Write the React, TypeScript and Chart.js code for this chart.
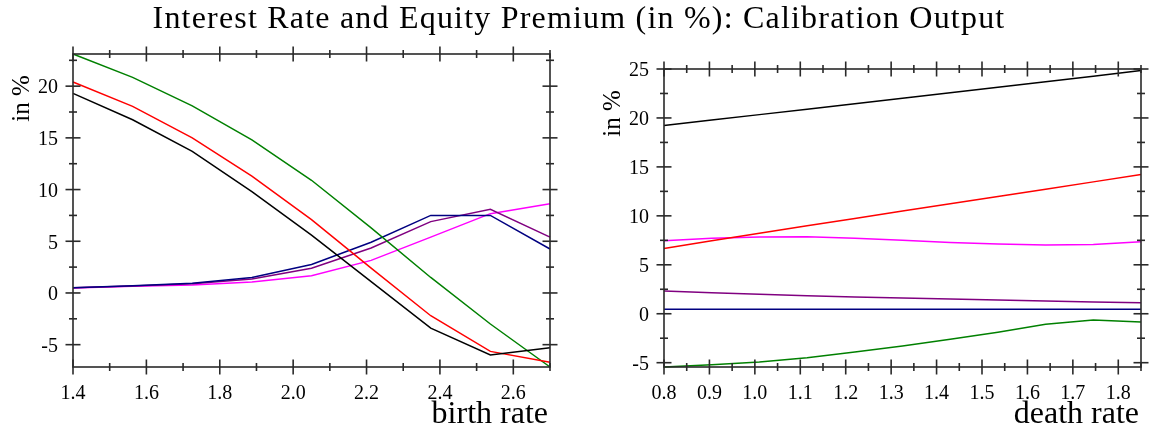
import React, { useEffect, useRef } from "react";
import { Chart, registerables } from "chart.js";

Chart.register(...registerables);

// ---------- data ----------
const birthRate = [1.4, 1.5625, 1.725, 1.8875, 2.05, 2.2125, 2.375, 2.5375, 2.7];
const birthBlack = [19.3, 16.75, 13.7, 9.8, 5.6, 1.1, -3.4, -6.0, -5.3];
const birthRed = [20.4, 18.05, 15.0, 11.3, 7.1, 2.4, -2.2, -5.65, -6.7];
const birthGreen = [23.11, 20.85, 18.1, 14.8, 10.9, 6.3, 1.5, -3.0, -7.16];
const birthNavy = [0.5, 0.7, 0.95, 1.5, 2.75, 4.9, 7.5, 7.5, 4.25];
const birthPurple = [0.5, 0.68, 0.88, 1.35, 2.4, 4.35, 6.9, 8.1, 5.4];
const birthMagenta = [0.48, 0.65, 0.78, 1.05, 1.67, 3.15, 5.4, 7.67, 8.63];

const deathRate = [0.8, 0.905, 1.01, 1.115, 1.22, 1.325, 1.43, 1.535, 1.64, 1.745, 1.85];
const deathBlack = [19.22, 19.78, 20.34, 20.9, 21.46, 22.02, 22.58, 23.14, 23.7, 24.27, 24.85];
const deathRed = [6.67, 7.45, 8.22, 8.98, 9.74, 10.5, 11.24, 11.98, 12.72, 13.47, 14.22];
const deathMagenta = [7.45, 7.7, 7.85, 7.86, 7.7, 7.5, 7.28, 7.12, 7.03, 7.08, 7.35];
const deathPurple = [2.32, 2.15, 1.99, 1.85, 1.72, 1.6, 1.5, 1.4, 1.3, 1.21, 1.12];
const deathNavy = [0.47, 0.47, 0.47, 0.47, 0.47, 0.47, 0.47, 0.47, 0.47, 0.47, 0.47];
const deathGreen = [-5.44, -5.2, -4.93, -4.5, -3.9, -3.3, -2.6, -1.88, -1.08, -0.64, -0.85];

// tick values
const birthXMajor = [1.4, 1.6, 1.8, 2.0, 2.2, 2.4, 2.6];
const birthXMinor = [1.5, 1.7, 1.9, 2.1, 2.3, 2.5, 2.7];
const birthYMajor = [-5, 0, 5, 10, 15, 20];
const birthYMinor = [-2.5, 2.5, 7.5, 12.5, 17.5, 22.5];

const deathXMajor = [0.8, 0.9, 1.0, 1.1, 1.2, 1.3, 1.4, 1.5, 1.6, 1.7, 1.8];
const deathXMinor = [0.85, 0.95, 1.05, 1.15, 1.25, 1.35, 1.45, 1.55, 1.65, 1.75, 1.85];
const deathYMajor = [-5, 0, 5, 10, 15, 20, 25];
const deathYMinor = [-2.5, 2.5, 7.5, 12.5, 17.5, 22.5];

const TITLE = "Interest Rate and Equity Premium (in %): Calibration Output";
const SERIF = '"Liberation Serif", "Times New Roman", serif';
const AXIS_COLOR = "#2a2a2a";

type PanelCfg = {
  xs: number[];
  series: { data: number[]; color: string }[];
  xMin: number;
  xMax: number;
  yMin: number;
  yMax: number;
  xMajor: number[];
  xMinor: number[];
  yMajor: number[];
  yMinor: number[];
  xTitle: string;
  yTitle: string;
  padTop: number;
  padRight: number;
  yWidth: number;
  xHeight: number;
  left: number;
};

const panels: PanelCfg[] = [
  {
    xs: birthRate,
    series: [
      { data: birthBlack, color: "#000000" },
      { data: birthRed, color: "#ff0000" },
      { data: birthGreen, color: "#008000" },
      { data: birthNavy, color: "#000080" },
      { data: birthPurple, color: "#800080" },
      { data: birthMagenta, color: "#ff00ff" },
    ],
    xMin: 1.4,
    xMax: 2.7,
    yMin: -7.16,
    yMax: 23.11,
    xMajor: birthXMajor,
    xMinor: birthXMinor,
    yMajor: birthYMajor,
    yMinor: birthYMinor,
    xTitle: "birth rate",
    yTitle: "in %",
    padTop: 54,
    padRight: 30,
    yWidth: 73,
    xHeight: 61,
    left: 0,
  },
  {
    xs: deathRate,
    series: [
      { data: deathBlack, color: "#000000" },
      { data: deathRed, color: "#ff0000" },
      { data: deathMagenta, color: "#ff00ff" },
      { data: deathPurple, color: "#800080" },
      { data: deathNavy, color: "#000080" },
      { data: deathGreen, color: "#008000" },
    ],
    xMin: 0.8,
    xMax: 1.85,
    yMin: -5.44,
    yMax: 25,
    xMajor: deathXMajor,
    xMinor: deathXMinor,
    yMajor: deathYMajor,
    yMinor: deathYMinor,
    xTitle: "death rate",
    yTitle: "in %",
    padTop: 69,
    padRight: 19,
    yWidth: 84,
    xHeight: 61,
    left: 580,
  },
];

const MAJ = 7.5;
const MIN = 4;

function makeBoxPlugin(cfg: PanelCfg) {
  return {
    id: "boxTicks",
    afterDatasetsDraw(chart: any) {
      const { ctx, chartArea, scales } = chart;
      const { left, right, top, bottom } = chartArea;
      const x = scales.x;
      const y = scales.y;
      ctx.save();
      ctx.strokeStyle = AXIS_COLOR;
      ctx.lineWidth = 1.6;
      ctx.lineCap = "butt";
      ctx.strokeRect(left, top, right - left, bottom - top);
      const seg = (x1: number, y1: number, x2: number, y2: number) => {
        ctx.beginPath();
        ctx.moveTo(x1, y1);
        ctx.lineTo(x2, y2);
        ctx.stroke();
      };
      const xt = (vals: number[], L: number) =>
        vals.forEach((v) => {
          const p = x.getPixelForValue(v);
          seg(p, bottom - L, p, bottom + L);
          seg(p, top - L, p, top + L);
        });
      const yt = (vals: number[], L: number) =>
        vals.forEach((v) => {
          const p = y.getPixelForValue(v);
          seg(left - L, p, left + L, p);
          seg(right - L, p, right + L, p);
        });
      xt(cfg.xMajor, MAJ);
      xt(cfg.xMinor, MIN);
      yt(cfg.yMajor, MAJ);
      yt(cfg.yMinor, MIN);

      // axis titles
      ctx.fillStyle = "#000";
      ctx.font = `32px ${SERIF}`;
      ctx.textAlign = "right";
      ctx.textBaseline = "alphabetic";
      ctx.fillText(cfg.xTitle, right - 2, 423);

      ctx.save();
      ctx.font = `25px ${SERIF}`;
      ctx.textAlign = "center";
      ctx.textBaseline = "middle";
      ctx.translate(left - 51, top + 44.5);
      ctx.rotate(-Math.PI / 2);
      ctx.fillText(cfg.yTitle, 0, 0);
      ctx.restore();

      ctx.restore();
    },
  };
}

function Panel({ cfg }: { cfg: PanelCfg }) {
  const ref = useRef<HTMLCanvasElement | null>(null);
  useEffect(() => {
    if (!ref.current) return;
    const tickFont = { family: SERIF, size: 20, lineHeight: 1.2 };
    const chart = new Chart(ref.current, {
      type: "line",
      data: {
        datasets: cfg.series.map((s) => ({
          data: cfg.xs.map((xv, i) => ({ x: xv, y: s.data[i] })),
          borderColor: s.color,
          backgroundColor: s.color,
          borderWidth: 1.5,
          pointRadius: 0,
          tension: 0,
          fill: false,
          clip: false as any,
        })),
      },
      options: {
        responsive: false,
        animation: false,
        events: [],
        layout: { padding: { top: cfg.padTop, right: cfg.padRight, bottom: 0, left: 0 } },
        plugins: {
          legend: { display: false },
          tooltip: { enabled: false },
          title: { display: false },
        },
        scales: {
          x: {
            type: "linear",
            min: cfg.xMin,
            max: cfg.xMax,
            grid: { display: false, drawTicks: false },
            border: { display: false },
            ticks: {
              font: tickFont,
              color: "#000",
              padding: 15,
              maxRotation: 0,
              autoSkip: false,
              callback: (v: any) => Number(v).toFixed(1),
            },
            afterBuildTicks: (s: any) => {
              s.ticks = cfg.xMajor.map((value) => ({ value }));
            },
            afterFit: (s: any) => {
              s.height = cfg.xHeight;
            },
          },
          y: {
            type: "linear",
            min: cfg.yMin,
            max: cfg.yMax,
            grid: { display: false, drawTicks: false },
            border: { display: false },
            ticks: {
              font: tickFont,
              color: "#000",
              padding: 15,
              labelOffset: 2,
              autoSkip: false,
              callback: (v: any) => String(v),
            },
            afterBuildTicks: (s: any) => {
              s.ticks = cfg.yMajor.map((value) => ({ value }));
            },
            afterFit: (s: any) => {
              s.width = cfg.yWidth;
            },
          },
        },
      } as any,
      plugins: [makeBoxPlugin(cfg)],
    });
    return () => chart.destroy();
  }, [cfg]);
  return (
    <canvas
      ref={ref}
      width={580}
      height={428}
      style={{ position: "absolute", left: cfg.left, top: 0, width: 580, height: 428, display: "block" }}
    />
  );
}

export default function App() {
  return (
    <div
      style={{
        position: "fixed",
        left: 0,
        top: 0,
        width: 1160,
        height: 428,
        background: "#fff",
        overflow: "hidden",
      }}
    >
      <Panel cfg={panels[0]} />
      <Panel cfg={panels[1]} />
      <div
        style={{
          position: "absolute",
          left: 0,
          top: 1,
          width: 1158,
          textAlign: "center",
          fontFamily: SERIF,
          fontSize: 32,
          lineHeight: "32px",
          letterSpacing: "1.2px",
          color: "#000",
          whiteSpace: "nowrap",
        }}
      >
        {TITLE}
      </div>
    </div>
  );
}
